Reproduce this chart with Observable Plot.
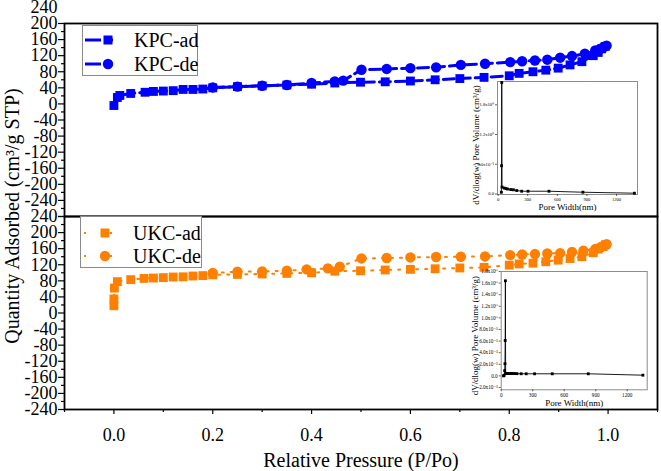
<!DOCTYPE html>
<html>
<head>
<meta charset="utf-8">
<script src="https://cdn.jsdelivr.net/npm/d3@7"></script>
<script src="https://cdn.jsdelivr.net/npm/@observablehq/plot@0.6"></script>
<style>
  body { margin: 0; background: #fff; }
  #chart { position: relative; width: 661px; height: 471px; overflow: hidden; background: #fff;
           font-family: "Liberation Serif", "Times New Roman", Times, "DejaVu Serif", serif; }
  #chart > * { position: absolute; }
  .legend { border: 1px solid #8a8a8a; background: #fff; box-sizing: border-box; }
  .legend .sw { position: absolute; }
  .legend .lab { position: absolute; font-size: 20px; line-height: 1; transform: translateY(-50%); white-space: nowrap; color: #000; }
  .ytitle { font-size: 20px; white-space: nowrap; transform: translate(-50%, -50%) rotate(-90deg); line-height: 1; }
</style>
</head>
<body>
<div id="chart"></div>
<script>
// ---------- data ----------
const BLUE = "#0000ff";
const ORANGE = "#ff8000";

// KPC adsorption (relative pressure, quantity adsorbed)
const kpcAdP = [0.0, 0.007, 0.012, 0.034, 0.063, 0.08, 0.1, 0.12, 0.14, 0.16, 0.18, 0.2, 0.25, 0.3, 0.35, 0.4, 0.447, 0.499, 0.549, 0.6, 0.65, 0.7, 0.749, 0.8, 0.82, 0.848, 0.874, 0.899, 0.923, 0.947, 0.97, 0.98, 0.987, 0.994];
const kpcAdQ = [-4, 16, 21, 26, 29, 31, 32, 33, 36, 36, 37, 40, 43, 45, 47, 49, 52, 54, 55, 57, 60, 63, 66, 70, 76, 80, 84, 89, 97, 105, 120, 128, 137, 143];
// KPC desorption
const kpcDeP = [0.2, 0.25, 0.3, 0.35, 0.4, 0.447, 0.464, 0.501, 0.552, 0.6, 0.652, 0.702, 0.751, 0.802, 0.826, 0.852, 0.877, 0.903, 0.927, 0.953, 0.974, 0.984, 0.992, 0.997];
const kpcDeQ = [41, 43, 45, 47, 52, 56, 58, 85, 87, 89, 91, 97, 100, 104, 106, 108, 110, 115, 119, 125, 133, 137, 142, 145];

// UKC adsorption
const ukcAdP = [0.0, 0.0, 0.001, 0.007, 0.034, 0.061, 0.08, 0.1, 0.12, 0.14, 0.16, 0.18, 0.2, 0.25, 0.3, 0.35, 0.4, 0.447, 0.499, 0.549, 0.6, 0.65, 0.7, 0.749, 0.8, 0.82, 0.848, 0.874, 0.899, 0.923, 0.947, 0.97, 0.98, 0.99, 0.995];
const ukcAdQ = [18, 35, 62, 78, 83, 86, 87, 88, 89.5, 90, 92, 93, 95, 96, 97, 98.5, 100, 104, 105, 107, 108.5, 110, 112, 113.5, 119, 122, 124, 127.5, 131.5, 135.5, 140, 150, 159, 165, 170];
// UKC desorption
const ukcDeP = [0.2, 0.25, 0.3, 0.35, 0.39, 0.433, 0.457, 0.501, 0.552, 0.6, 0.652, 0.702, 0.751, 0.802, 0.826, 0.852, 0.877, 0.903, 0.927, 0.95, 0.974, 0.984, 0.992, 0.997];
const ukcDeQ = [99.5, 102.7, 103.5, 105, 108.4, 111, 115, 135.7, 136.7, 138.2, 139.2, 140, 140.7, 144, 145.6, 146.6, 148, 149, 151.6, 155, 159, 163, 168, 171];

// Inset (KPC) pore size distribution
const kpcPoreW = [33, 35, 37, 40, 61, 80, 95, 128, 155, 189, 239, 303, 515, 859, 1381];
const kpcPoreV = [0.035, 0.57, 2.25, 0.14, 0.12, 0.11, 0.10, 0.09, 0.085, 0.07, 0.056, 0.056, 0.056, 0.036, 0.016];
// Inset (UKC) pore size distribution
const ukcPoreW = [22, 28, 33, 36, 38, 40, 42, 50, 60, 70, 80, 90, 100, 115, 130, 150, 190, 238, 318, 486, 829, 1349];
const ukcPoreV = [0.0, 0.01, 0.09, 0.21, 0.61, 1.64, 0.04, 0.04, 0.04, 0.04, 0.04, 0.04, 0.04, 0.04, 0.04, 0.038, 0.037, 0.036, 0.036, 0.036, 0.036, 0.012];

// tick labels
const mainYTicks = [-240, -200, -160, -120, -80, -40, 0, 40, 80, 120, 160, 200, 240];
const mainXTicks = [0.0, 0.2, 0.4, 0.6, 0.8, 1.0];
const insetXTicks = [0, 300, 600, 900, 1200];
const insetTopYTicks = [0, 0.6, 1.2, 1.8];
const insetBotYTicks = [-0.2, 0, 0.2, 0.4, 0.6, 0.8, 1.0, 1.2, 1.4, 1.6, 1.8];

// text
const xTitle = "Relative Pressure (P/Po)";
const yTitle = "Quantity Adsorbed (cm³/g STP)";
const insetYTitle = "dV/dlog(w) Pore Volume (cm³/g)";
const insetXTitle = "Pore Width(nm)";
const seriesNames = ["KPC-ad", "KPC-de", "UKC-ad", "UKC-de"];

// ---------- build ----------
const zip = (a, b, ka, kb) => a.map((v, i) => ({[ka]: v, [kb]: b[i]}));
const kpcAd = zip(kpcAdP, kpcAdQ, "p", "q");
const kpcDe = zip(kpcDeP, kpcDeQ, "p", "q");
const ukcAd = zip(ukcAdP, ukcAdQ, "p", "q");
const ukcDe = zip(ukcDeP, ukcDeQ, "p", "q");
const kpcPore = zip(kpcPoreW, kpcPoreV, "w", "v");
const ukcPore = zip(ukcPoreW, ukcPoreV, "w", "v");

const SERIF = "'Liberation Serif', 'Times New Roman', Times, 'DejaVu Serif', serif";
const baseStyle = {fontFamily: SERIF, background: "transparent", overflow: "visible", color: "black"};

const topMajor = d3.range(-280, 201, 40);
const topMinor = d3.range(-260, 200, 40);
const botMajor = d3.range(-240, 241, 40);
const botMinor = d3.range(-220, 240, 40);
const xMinor = [-0.1, 0.1, 0.3, 0.5, 0.7, 0.9, 1.1];

function isoMarks(ad, de, color, dash, lw) {
  return [
    Plot.line(ad, {x: "p", y: "q", stroke: color, strokeWidth: lw, strokeDasharray: dash}),
    Plot.line(de, {x: "p", y: "q", stroke: color, strokeWidth: lw, strokeDasharray: dash}),
    Plot.dot(ad, {x: "p", y: "q", symbol: "square", r: 5, fill: color, stroke: "none"}),
    Plot.dot(de, {x: "p", y: "q", symbol: "circle", r: 5.2, fill: color, stroke: "none"})
  ];
}

const topPlot = Plot.plot({
  width: 661, height: 216,
  marginLeft: 64, marginRight: 4, marginTop: 23, marginBottom: 0,
  style: baseStyle,
  x: {domain: [-0.1, 1.1], axis: null, label: null},
  y: {domain: [-280, 200], label: null},
  marks: [
    Plot.axisY({ticks: mainYTicks, tickSize: 0, tickPadding: 7, fontSize: 18, tickFormat: d => String(d), label: null}),
    Plot.axisY({ticks: topMajor, tickSize: 6, text: null, label: null, strokeWidth: 1.2}),
    Plot.axisY({ticks: topMinor, tickSize: 3, text: null, label: null, strokeWidth: 1.2}),
    ...isoMarks(kpcAd, kpcDe, BLUE, "11,5", 3),
    Plot.frame({stroke: "black", strokeWidth: 1.8})
  ]
});

const botPlot = Plot.plot({
  width: 661, height: 271,
  marginLeft: 64, marginRight: 4, marginTop: 16, marginBottom: 62,
  style: baseStyle,
  x: {domain: [-0.1, 1.1], label: null},
  y: {domain: [-240, 240], label: null},
  marks: [
    Plot.axisY({ticks: mainYTicks, tickSize: 0, tickPadding: 7, fontSize: 18, tickFormat: d => String(d), label: null}),
    Plot.axisY({ticks: botMajor, tickSize: 6, text: null, label: null, strokeWidth: 1.2}),
    Plot.axisY({ticks: botMinor, tickSize: 3, text: null, label: null, strokeWidth: 1.2}),
    Plot.axisX({ticks: mainXTicks, tickSize: 5, tickPadding: 14, fontSize: 18, tickFormat: d3.format(".1f"), label: null, strokeWidth: 1.2}),
    Plot.axisX({ticks: xMinor, tickSize: 3, text: null, label: null, strokeWidth: 1.2}),
    ...isoMarks(ukcAd, ukcDe, ORANGE, "2,7", 2),
    Plot.frame({stroke: "black", strokeWidth: 1.8}),
    Plot.text([xTitle], {frameAnchor: "bottom", textAnchor: "middle", dy: 51, fontSize: 20, lineAnchor: "middle", fill: "black"})
  ]
});

const sci = v => {
  if (Math.abs(v) < 1e-9) return "0.0";
  const sup = {"-": "⁻", "0": "⁰", "1": "¹", "2": "²", "3": "³", "4": "⁴", "5": "⁵", "6": "⁶", "7": "⁷", "8": "⁸", "9": "⁹"};
  const e = Math.floor(Math.log10(Math.abs(v)) + 1e-9);
  const m = v / Math.pow(10, e);
  return m.toFixed(1) + "x10" + String(e).split("").map(c => sup[c]).join("");
};

function inset({data, width, height, ml, mr, xDomain, yDomain, yTicks, tickFont, yTitleDx, yTitleDy}) {
  return Plot.plot({
    width, height, marginLeft: ml, marginRight: mr, marginTop: 6, marginBottom: 22,
    style: baseStyle,
    x: {domain: xDomain, label: null},
    y: {domain: yDomain, label: null},
    marks: [
      Plot.frame({fill: "white", stroke: "#8c8c8c", strokeWidth: 1}),
      Plot.axisY({ticks: yTicks, tickSize: 2, tickPadding: 1.5, fontSize: tickFont, tickFormat: sci, label: null, strokeWidth: 0.6}),
      Plot.axisX({ticks: insetXTicks, tickSize: 2, tickPadding: 1.5, fontSize: tickFont, tickFormat: d => String(d), label: null, strokeWidth: 0.6}),
      Plot.line(data, {x: "w", y: "v", stroke: "black", strokeWidth: 0.9}),
      Plot.dot(data, {x: "w", y: "v", symbol: "square", r: 1.6, fill: "black", stroke: "none"}),
      Plot.text([insetYTitle], {frameAnchor: "left", textAnchor: "middle", lineAnchor: "middle", rotate: -90, dx: yTitleDx, dy: yTitleDy, fontSize: 9, fill: "black"}),
      Plot.text([insetXTitle], {frameAnchor: "bottom", textAnchor: "middle", dy: 13, fontSize: 9, lineAnchor: "middle", fill: "black"})
    ]
  });
}

const insetTop = inset({data: kpcPore, width: 186, height: 141, ml: 42, mr: 4,
  xDomain: [-6, 1412], yDomain: [-0.01, 2.27], yTicks: insetTopYTicks, tickFont: 4.6, yTitleDx: -21, yTitleDy: 7});
const insetBot = inset({data: ukcPore, width: 197, height: 146.3, ml: 46.7, mr: 4.3,
  xDomain: [0, 1390], yDomain: [-0.24, 1.8], yTicks: insetBotYTicks, tickFont: 5.2, yTitleDx: -26, yTitleDy: 5});

const chart = document.getElementById("chart");
function place(el, left, top) { el.style.left = left + "px"; el.style.top = top + "px"; chart.appendChild(el); }
place(topPlot, 0, 0);
place(botPlot, 0, 200);
place(insetTop, 455, 75);
place(insetBot, 454, 265);

// legends
const NS = "http://www.w3.org/2000/svg";
function legendBox({left, top, width, height, color, dash, lw, rows}) {
  const box = document.createElement("div");
  box.className = "legend";
  Object.assign(box.style, {left: left + "px", top: top + "px", width: width + "px", height: height + "px"});
  rows.forEach(r => {
    const svg = document.createElementNS(NS, "svg");
    svg.setAttribute("class", "sw");
    svg.setAttribute("width", 34); svg.setAttribute("height", 16);
    svg.style.left = r.sx + "px"; svg.style.top = (r.cy - 8) + "px";
    const ln = document.createElementNS(NS, "line");
    ln.setAttribute("x1", 0); ln.setAttribute("x2", r.len); ln.setAttribute("y1", 8); ln.setAttribute("y2", 8);
    ln.setAttribute("stroke", color); ln.setAttribute("stroke-width", lw); ln.setAttribute("stroke-dasharray", dash);
    svg.appendChild(ln);
    let m;
    if (r.sym === "square") {
      m = document.createElementNS(NS, "rect");
      m.setAttribute("x", r.mx - 4.5); m.setAttribute("y", 3.5); m.setAttribute("width", 9); m.setAttribute("height", 9);
    } else {
      m = document.createElementNS(NS, "circle");
      m.setAttribute("cx", r.mx); m.setAttribute("cy", 8); m.setAttribute("r", 5.2);
    }
    m.setAttribute("fill", color);
    svg.appendChild(m);
    box.appendChild(svg);
    const t = document.createElement("span");
    t.className = "lab"; t.textContent = r.name;
    t.style.left = r.tx + "px"; t.style.top = r.cy + "px";
    box.appendChild(t);
  });
  chart.appendChild(box);
}
legendBox({left: 82, top: 25, width: 116, height: 51, color: BLUE, dash: "16,4", lw: 3, rows: [
  {name: seriesNames[0], sym: "square", sx: 2, len: 28, mx: 23, cy: 14, tx: 51},
  {name: seriesNames[1], sym: "circle", sx: 2, len: 28, mx: 23, cy: 38, tx: 51}
]});
legendBox({left: 80, top: 216, width: 122, height: 52, color: ORANGE, dash: "2,24", lw: 2, rows: [
  {name: seriesNames[2], sym: "square", sx: 3, len: 30, mx: 21, cy: 16, tx: 52},
  {name: seriesNames[3], sym: "circle", sx: 3, len: 30, mx: 21, cy: 39, tx: 52}
]});

// y title spanning both panels
const yt = document.createElement("div");
yt.className = "ytitle";
yt.textContent = yTitle;
place(yt, 12, 216);
</script>
</body>
</html>
